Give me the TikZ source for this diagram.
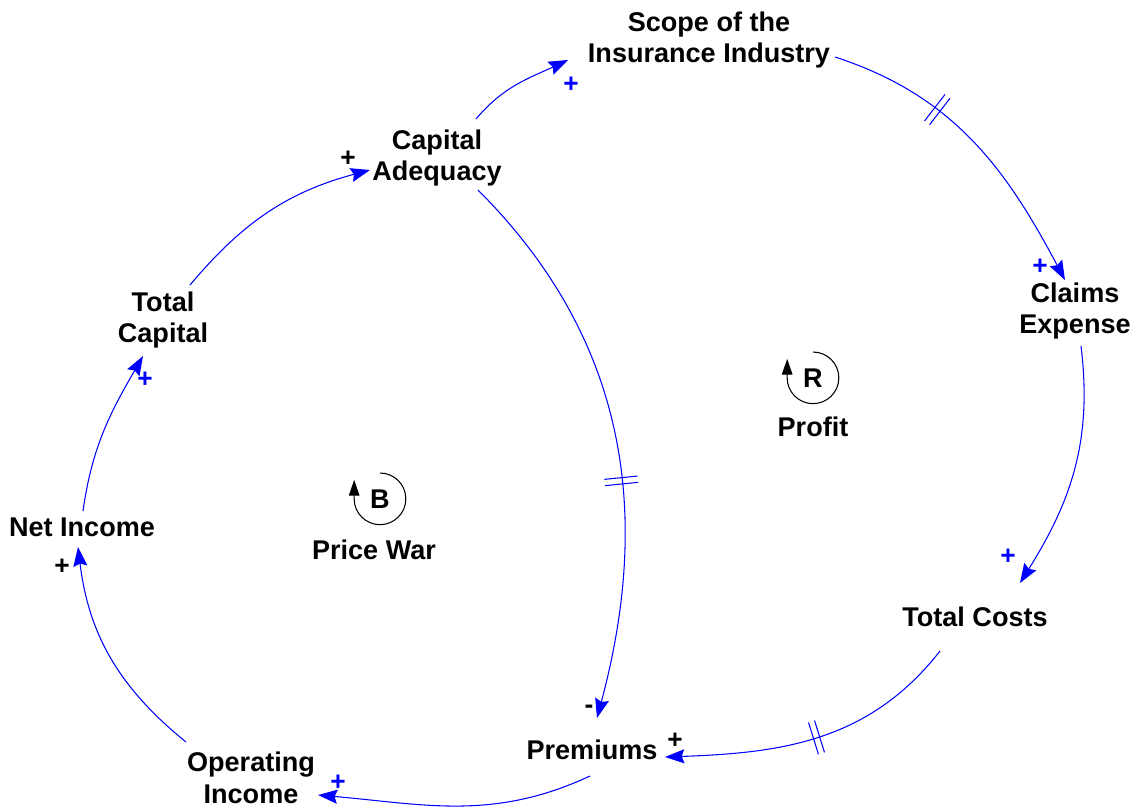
\documentclass[tikz,border=0pt]{standalone}
\usepackage{fontspec}
\setmainfont{Liberation Sans}
\usepackage{tikz}
\usetikzlibrary{arrows.meta,calc,decorations.markings}
\definecolor{LinkBlue}{HTML}{0000FF}

\begin{document}
\begin{tikzpicture}[
    x=0.02cm,y=0.02cm,
    var/.style={align=center,inner sep=2pt,font=\fontsize{15.4}{18.2}\selectfont\bfseries},
    pol/.style={inner sep=0pt,font=\fontsize{15}{18}\selectfont\bfseries},
    link/.style={-{Stealth[length=11pt,width=8pt,inset=1.5pt]},color=LinkBlue,line width=0.6pt},
    delaymark/.style={postaction={decorate},decoration={markings,mark=at position #1 with {\draw[LinkBlue,line width=0.6pt,-] (-1.8pt,-9.5pt) -- (-1.8pt,9.5pt) (1.8pt,-9.5pt) -- (1.8pt,9.5pt);}}},
    loopsym/.style={black,line width=0.6pt,-{Triangle[length=9pt,width=6pt]}}
  ]
    \useasboundingbox (0,0) rectangle (1136,-809);

    \node[var] (scope) at (709,-40) {Scope of the\\Insurance Industry};
    \node[var] (capad) at (437,-158) {Capital\\Adequacy};
    \node[var] (claims) at (1075,-311) {Claims\\Expense};
    \node[var] (tcap) at (163,-320) {Total\\Capital};
    \node[var] (netinc) at (82,-527) {Net Income};
    \node[var] (tcost) at (975,-617) {Total Costs};
    \node[var] (prem) at (592,-750) {Premiums};
    \node[var] (opinc) at (251,-778) {Operating\\Income};

    \draw[link] ($(capad)+(39,39)$) to[out=50,in=205] ($(scope)+(-141,-20)$);
    \draw[link,delaymark=0.35] ($(scope)+(126,-17)$) to[out=-18,in=118] ($(claims)+(-10,31)$);
    \draw[link] ($(claims)+(6,-35)$) to[out=-83,in=58] ($(tcost)+(45,34)$);
    \draw[link,delaymark=0.5] ($(tcost)+(-35,-34)$) to[out=-128,in=2] ($(prem)+(73,-7)$);
    \draw[link] ($(prem)+(-2,-26)$) to[out=-155,in=-5] ($(opinc)+(67,-17)$);
    \draw[link] ($(opinc)+(-65,36)$) to[out=141,in=-83] ($(netinc)+(-4,-20)$);
    \draw[link] ($(netinc)+(1,16)$) to[out=82,in=240] ($(tcap)+(-20,-36)$);
    \draw[link] ($(tcap)+(27,35)$) to[out=50,in=195] ($(capad)+(-67,-12)$);
    \draw[link,delaymark=0.58] ($(capad)+(41,-32)$) to[out=-45,in=75] ($(prem)+(5,32)$);

    \node[pol,LinkBlue] (s1) at (571,-85) {+};
    \node[pol,LinkBlue] (s2) at (1040,-267) {+};
    \node[pol,LinkBlue] (s3) at (1008,-557) {+};
    \node[pol] (s4) at (675,-741) {+};
    \node[pol,LinkBlue] (s5) at (338,-783) {+};
    \node[pol] (s6) at (62,-567) {+};
    \node[pol,LinkBlue] (s7) at (145,-380) {+};
    \node[pol] (s8) at (348,-159) {+};
    \node[pol] (s9) at (589,-709) {-};

    \node[var] (loopB) at (380,-499) {B};
    \draw[loopsym] ($(loopB)+(0,26)$) arc[start angle=90,end angle=-180,radius=14.7pt] -- ++(0,19);
    \node[var] (pwar) at (374,-550) {Price War};
    \node[var] (loopR) at (813,-378) {R};
    \draw[loopsym] ($(loopR)+(0,26)$) arc[start angle=90,end angle=-180,radius=14.7pt] -- ++(0,19);
    \node[var] (profit) at (813,-427) {Profit};
\end{tikzpicture}
\end{document}
